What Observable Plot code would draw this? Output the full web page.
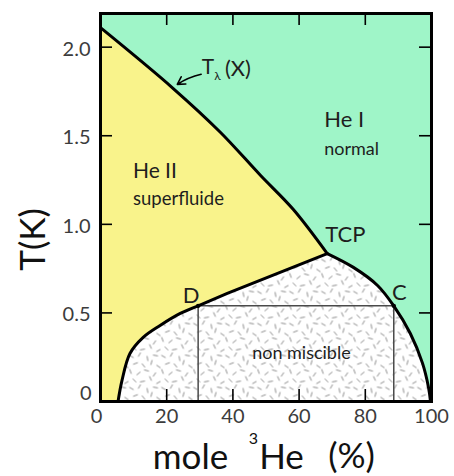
<!DOCTYPE html>
<html><head><meta charset="utf-8">
<script src="https://cdn.jsdelivr.net/npm/d3@7"></script>
<script src="https://cdn.jsdelivr.net/npm/@observablehq/plot@0.6"></script>
<style>html,body{margin:0;padding:0;background:#fff;}</style>
</head><body><div id="chart"></div>
<script>
// ---- data ----
const xTicks = [0, 20, 40, 60, 80, 100];
const xTickLabels = ["0", "20", "40", "60", "80", "100"];
const yTicks = [0, 0.5, 1.0, 1.5, 2.0];
const yTickLabels = ["0", "0.5", "1.0", "1.5", "2.0"];

// lambda line T_lambda(X)
const lambdaX = [0, 21.9, 36.2, 48.3, 58.2, 68.5];
const lambdaT = [2.11, 1.768, 1.52, 1.277, 1.085, 0.835];
// phase-separation curve, left branch (He4-rich side) up to D
const leftX = [5.3, 6.5, 8.9, 12.9, 18.0, 24.1, 29.5];
const leftT = [0, 0.119, 0.271, 0.362, 0.429, 0.497, 0.54];
// D -> TCP
const coexX = [29.5, 38.3, 68.5];
const coexT = [0.54, 0.61, 0.835];
// right branch TCP -> C -> 100%
const rightX = [68.5, 76.4, 83.7, 88.6, 93.6, 97.3, 99.1, 99.7];
const rightT = [0.835, 0.757, 0.655, 0.54, 0.384, 0.215, 0.079, 0];
// tie line D–C
const tieX = [29.5, 88.6];
const tieT = [0.54, 0.54];

// annotations
const regionLabels = [
  {t: "He II", x: 9.8, y: 1.26, size: 21},
  {t: "superfluide", x: 9.8, y: 1.107, size: 18.5},
  {t: "He I", x: 67.6, y: 1.548, size: 22},
  {t: "normal", x: 67.6, y: 1.39, size: 18},
  {t: "TCP", x: 67.9, y: 0.898, size: 22}
];
const pointLabels = [
  {t: "D", x: 27.4, y: 0.593, size: 22},
  {t: "C", x: 90.3, y: 0.61, size: 22},
  {t: "non miscible", x: 60.7, y: 0.271, size: 18}
];

// ---- build ----
const pts = (xs, ts) => xs.map((x, i) => ({x, y: ts[i]}));
const lambda = pts(lambdaX, lambdaT);
const left = pts(leftX, leftT);
const coex = pts(coexX, coexT);
const right = pts(rightX, rightT);
const tie = pts(tieX, tieT);

const yellowPoly = [{x: 0, y: 0}, ...lambda, ...coex.slice().reverse(), ...left.slice().reverse(), {x: 0, y: 0}];
const stipplePoly = [...left, ...coex, ...right, left[0]];

const GREEN = "#9ff5c8";
const YELLOW = "#f9f38b";
const INK = "#1e1e1e";
const TICKINK = "#3c3c3c";

const svg = Plot.plot({
  width: 454,
  height: 476,
  marginLeft: 100,
  marginRight: 23,
  marginTop: 13,
  marginBottom: 75,
  style: {fontFamily: "Lato, 'Open Sans', sans-serif", background: "#fff"},
  x: {domain: [0, 100], axis: null},
  y: {domain: [0, 2.19], axis: null},
  marks: [
    Plot.frame({fill: GREEN, stroke: "none"}),
    Plot.line(yellowPoly, {x: "x", y: "y", fill: YELLOW, stroke: "none"}),
    Plot.line(stipplePoly, {x: "x", y: "y", fill: "url(#stipple)", stroke: "none"}),
    // tie lines
    Plot.line(tie, {x: "x", y: "y", stroke: "#4a4a4a", strokeWidth: 1.5}),
    Plot.ruleX(tieX, {x: d => d, y1: 0, y2: tieT[0], stroke: "#4a4a4a", strokeWidth: 1.5}),
    // boundaries
    Plot.line(lambda, {x: "x", y: "y", stroke: "black", strokeWidth: 3, curve: "catmull-rom"}),
    Plot.line(left, {x: "x", y: "y", stroke: "black", strokeWidth: 3, curve: "catmull-rom"}),
    Plot.line(coex, {x: "x", y: "y", stroke: "black", strokeWidth: 3}),
    Plot.line(right, {x: "x", y: "y", stroke: "black", strokeWidth: 3, curve: "catmull-rom"}),
    Plot.dot(tie, {x: "x", y: "y", r: 2.2, fill: "black"}),
    // inward ticks
    Plot.tickX(xTicks.slice(1, -1), {x: d => d, insetTop: 376, stroke: "black", strokeWidth: 1.6}),
    Plot.tickX(xTicks.slice(1, -1), {x: d => d, insetBottom: 376, stroke: "black", strokeWidth: 1.6}),
    Plot.tickY(yTicks.slice(1), {y: d => d, insetRight: 319, stroke: "black", strokeWidth: 1.6}),
    Plot.tickY(yTicks.slice(1), {y: d => d, insetLeft: 319, stroke: "black", strokeWidth: 1.6}),
    Plot.frame({stroke: "black", strokeWidth: 3}),
    // tick labels
    Plot.text(xTicks.slice(1), {x: d => d, y: 0, text: (d, i) => xTickLabels[i + 1], dy: 7, lineAnchor: "top", fontSize: 20, fill: TICKINK}),
    Plot.text(xTicks.slice(0, 1), {x: d => d, y: 0, text: () => xTickLabels[0], dy: 7, dx: -4, lineAnchor: "top", fontSize: 20, fill: TICKINK}),
    Plot.text(yTicks.slice(1), {x: 0, y: d => d, text: (d, i) => yTickLabels[i + 1], dx: -10, dy: 2, textAnchor: "end", lineAnchor: "middle", fontSize: 20, fill: TICKINK}),
    Plot.text(yTicks.slice(0, 1), {x: 0, y: d => d, text: () => yTickLabels[0], dx: -9, dy: -8, textAnchor: "end", lineAnchor: "middle", fontSize: 20, fill: TICKINK}),
    // region labels
    Plot.text(regionLabels, {x: "x", y: "y", text: "t", fontSize: d => d.size, textAnchor: "start", lineAnchor: "bottom", fill: INK}),
    Plot.text(pointLabels, {x: "x", y: "y", text: "t", fontSize: d => d.size, textAnchor: "middle", lineAnchor: "middle", fill: INK}),
    // T_lambda(X) label with arrow
    Plot.arrow([{x1: 30.4, y1: 1.847, x2: 23.2, y2: 1.79}], {x1: "x1", y1: "y1", x2: "x2", y2: "y2", stroke: "black", strokeWidth: 1.6, headLength: 8, bend: -10}),
    Plot.text(["T"], {x: 30.6, y: 1.887, textAnchor: "start", lineAnchor: "middle", fontSize: 21, fill: INK}),
    Plot.text(["λ"], {x: 34.4, y: 1.835, textAnchor: "start", lineAnchor: "middle", fontSize: 12, fill: INK}),
    Plot.text(["(X)"], {x: 37.6, y: 1.876, textAnchor: "start", lineAnchor: "middle", fontSize: 22, fill: INK}),
    // axis titles
    Plot.text(["T(K)"], {frameAnchor: "left", dx: -67, dy: 32, rotate: -90, textAnchor: "middle", lineAnchor: "middle", fontSize: 35, fill: "#111"}),
    Plot.text(["mole"], {frameAnchor: "bottom-left", dx: 90, dy: 67, textAnchor: "middle", lineAnchor: "bottom", fontSize: 35, fill: "#111"}),
    Plot.text(["3"], {frameAnchor: "bottom-left", dx: 153, dy: 42, textAnchor: "middle", lineAnchor: "bottom", fontSize: 16, fill: "#111"}),
    Plot.text(["He"], {frameAnchor: "bottom-left", dx: 181, dy: 67, textAnchor: "middle", lineAnchor: "bottom", fontSize: 35, fill: "#111"}),
    Plot.text(["(%)"], {frameAnchor: "bottom-left", dx: 251, dy: 66, textAnchor: "middle", lineAnchor: "bottom", fontSize: 35, fill: "#111"})
  ]
});

// stipple texture for the non-miscible region
const tile = 32;
const dashes = [
  [3,4,30],[11,2,-60],[19,6,80],[27,3,10],
  [7,11,-20],[15,13,50],[23,10,-75],[30,14,35],
  [2,19,70],[10,21,-40],[18,18,15],[26,22,-55],
  [6,28,45],[14,29,-10],[22,26,65],[30,30,-30]
];
const defs = d3.select(svg).insert("defs", ":first-child");
const pat = defs.append("pattern").attr("id", "stipple").attr("patternUnits", "userSpaceOnUse")
  .attr("width", tile).attr("height", tile);
pat.append("rect").attr("width", tile).attr("height", tile).attr("fill", "#fff");
for (const [cx, cy, a] of dashes) {
  const r = a * Math.PI / 180, h = 2.1;
  pat.append("line")
    .attr("x1", cx - h * Math.cos(r)).attr("y1", cy - h * Math.sin(r))
    .attr("x2", cx + h * Math.cos(r)).attr("y2", cy + h * Math.sin(r))
    .attr("stroke", "#707070").attr("stroke-width", 0.8).attr("stroke-linecap", "round");
}
document.getElementById("chart").appendChild(svg);
</script>
</body></html>
